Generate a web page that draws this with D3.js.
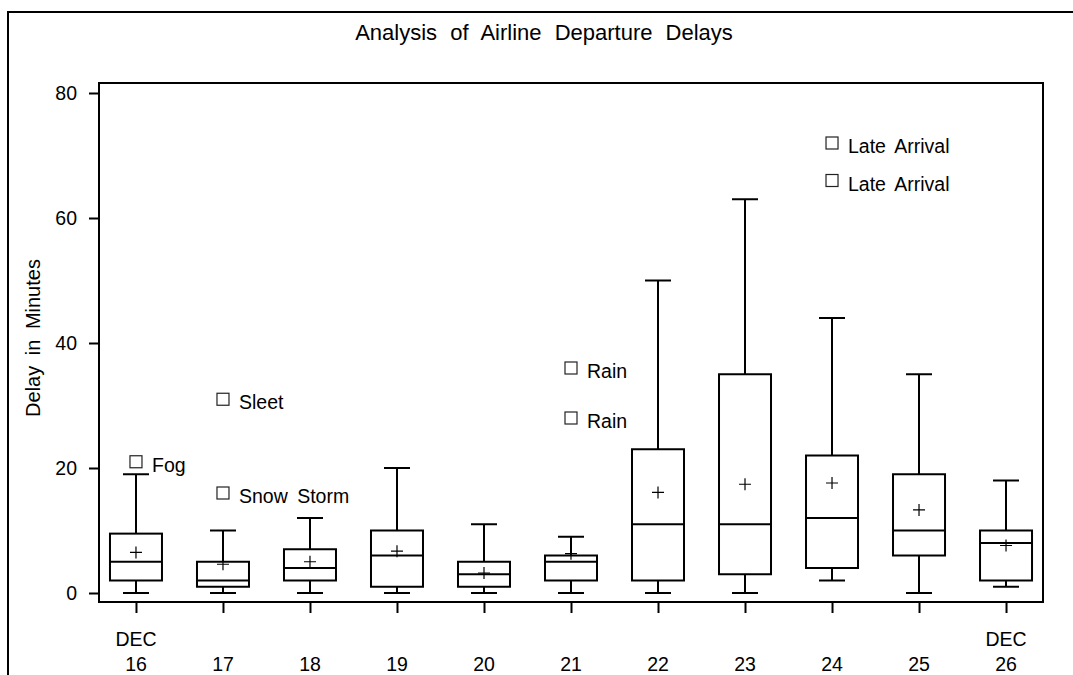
<!DOCTYPE html>
<html>
<head>
<meta charset="utf-8">
<script src="https://cdn.jsdelivr.net/npm/d3@7"></script>
<style>
  html, body { margin: 0; padding: 0; background: #fff; }
  svg { display: block; font-family: "Liberation Sans", Arial, sans-serif; }
</style>
</head>
<body>
<svg id="chart" width="1073" height="675"></svg>
<script>
// Departure delays (minutes) by day, December 16-26
const days = ["16", "17", "18", "19", "20", "21", "22", "23", "24", "25", "26"];
const monthLabels = ["DEC", "", "", "", "", "", "", "", "", "", "DEC"];
const lowWhisker  = [0, 0, 0, 0, 0, 0, 0, 0, 2, 0, 1];
const q1          = [2, 1, 2, 1, 1, 2, 2, 3, 4, 6, 2];
const medians     = [5, 2, 4, 6, 3, 5, 11, 11, 12, 10, 8];
const q3          = [9.5, 5, 7, 10, 5, 6, 23, 35, 22, 19, 10];
const highWhisker = [19, 10, 12, 20, 11, 9, 50, 63, 44, 35, 18];
const means       = [6.5, 4.6, 5, 6.7, 3.2, 6.3, 16.1, 17.4, 17.6, 13.3, 7.6];

// Flights flagged as outliers, with the reason for the delay
const outlierDays    = ["16", "17", "17", "21", "21", "24", "24"];
const outlierValues  = [21, 31, 16, 36, 28, 72, 66];
const outlierReasons = ["Fog", "Sleet", "Snow Storm", "Rain", "Rain", "Late Arrival", "Late Arrival"];

const yTicks = [0, 20, 40, 60, 80];

const svg = d3.select("#chart");
const frame = { left: 99, right: 1043, top: 83, bottom: 602 };

const x = d3.scalePoint().domain(days).range([frame.left, frame.right]).padding(0.425);
const y = d3.scaleLinear().domain([0, 80]).range([593, 93]);

const boxW = 52, capW = 26, plusW = 12, sq = 12;

// outer border (top and left edges)
svg.append("path")
  .attr("d", "M8,675 V12 H1073")
  .attr("fill", "none").attr("stroke", "#000").attr("stroke-width", 2);

// title
svg.append("text")
  .attr("x", 544).attr("y", 39.5)
  .attr("text-anchor", "middle")
  .attr("font-size", 22).attr("word-spacing", 7)
  .text("Analysis of Airline Departure Delays");

// plot frame
svg.append("rect")
  .attr("x", frame.left).attr("y", frame.top)
  .attr("width", frame.right - frame.left).attr("height", frame.bottom - frame.top)
  .attr("fill", "none").attr("stroke", "#000").attr("stroke-width", 2);

// y axis
const yAxis = d3.axisLeft(y).tickValues(yTicks).tickSize(10).tickPadding(12);
const gy = svg.append("g").attr("transform", `translate(${frame.left},0)`).call(yAxis);
gy.select(".domain").remove();
gy.selectAll(".tick line").attr("stroke", "#000").attr("stroke-width", 2);
gy.selectAll(".tick text").attr("font-size", 19.5).attr("font-family", "Liberation Sans, Arial, sans-serif").attr("fill", "#000");

svg.append("text")
  .attr("transform", "translate(39.5,338) rotate(-90)")
  .attr("text-anchor", "middle")
  .attr("font-size", 20).attr("word-spacing", 5)
  .text("Delay in Minutes");

// x axis
const xAxis = d3.axisBottom(x).tickSize(11).tickFormat(() => "");
const gx = svg.append("g").attr("transform", `translate(0,${frame.bottom})`).call(xAxis);
gx.select(".domain").remove();
gx.selectAll(".tick line").attr("stroke", "#000").attr("stroke-width", 2);

const xl = svg.append("g").attr("font-size", 19.5).attr("text-anchor", "middle");
xl.selectAll("text.month").data(days).join("text")
  .attr("class", "month")
  .attr("x", d => x(d)).attr("y", 645.5)
  .text((d, i) => monthLabels[i]);
xl.selectAll("text.day").data(days).join("text")
  .attr("class", "day")
  .attr("x", d => x(d)).attr("y", 670.5)
  .text(d => d);

// box plots
const boxes = svg.append("g").attr("stroke", "#000").attr("fill", "none");
days.forEach((d, i) => {
  const cx = x(d);
  const g = boxes.append("g");
  // whiskers
  g.append("line").attr("x1", cx).attr("x2", cx)
    .attr("y1", y(q3[i])).attr("y2", y(highWhisker[i])).attr("stroke-width", 2);
  g.append("line").attr("x1", cx).attr("x2", cx)
    .attr("y1", y(q1[i])).attr("y2", y(lowWhisker[i])).attr("stroke-width", 2);
  g.append("line").attr("x1", cx - capW / 2).attr("x2", cx + capW / 2)
    .attr("y1", y(highWhisker[i])).attr("y2", y(highWhisker[i])).attr("stroke-width", 2);
  g.append("line").attr("x1", cx - capW / 2).attr("x2", cx + capW / 2)
    .attr("y1", y(lowWhisker[i])).attr("y2", y(lowWhisker[i])).attr("stroke-width", 2);
  // box
  g.append("rect")
    .attr("x", cx - boxW / 2).attr("width", boxW)
    .attr("y", y(q3[i])).attr("height", y(q1[i]) - y(q3[i]))
    .attr("fill", "#fff").attr("stroke-width", 2);
  // median
  g.append("line").attr("x1", cx - boxW / 2).attr("x2", cx + boxW / 2)
    .attr("y1", y(medians[i])).attr("y2", y(medians[i])).attr("stroke-width", 2);
  // mean marker
  const my = y(means[i]);
  g.append("path")
    .attr("d", `M${cx - plusW / 2},${my}H${cx + plusW / 2}M${cx},${my - plusW / 2}V${my + plusW / 2}`)
    .attr("stroke-width", 1.2);
});

// outliers with labels
const out = svg.append("g");
outlierDays.forEach((d, i) => {
  const cx = x(d), cy = y(outlierValues[i]);
  out.append("rect")
    .attr("x", cx - sq / 2).attr("y", cy - sq / 2)
    .attr("width", sq).attr("height", sq)
    .attr("fill", "none").attr("stroke", "#222").attr("stroke-width", 1.2);
  out.append("text")
    .attr("x", cx + 16).attr("y", cy + 10)
    .attr("font-size", 19.5).attr("word-spacing", 4)
    .text(outlierReasons[i]);
});
</script>
</body>
</html>
